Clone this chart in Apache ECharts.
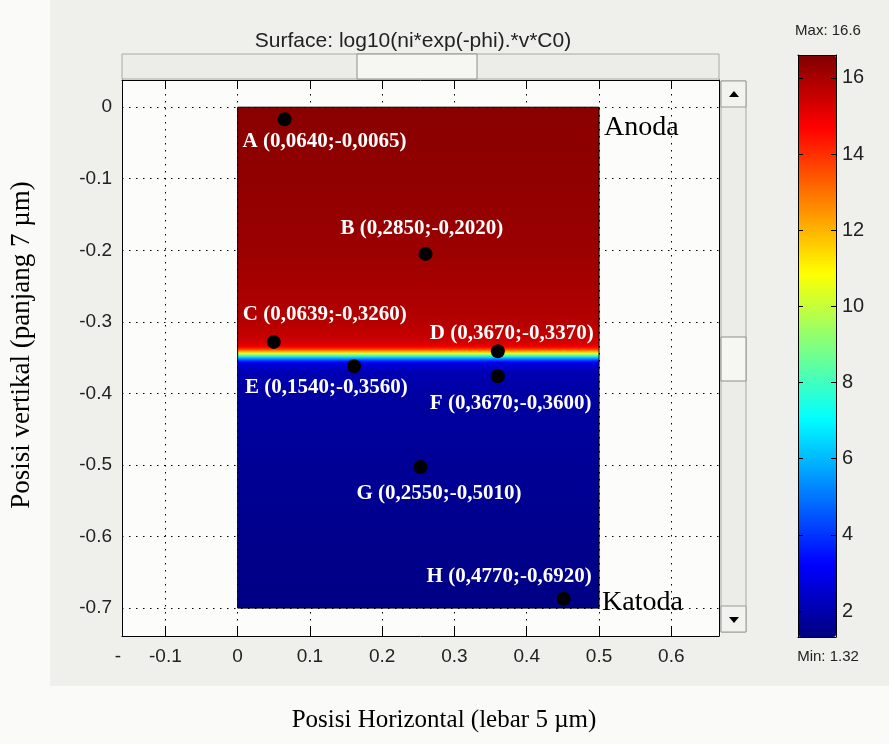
<!DOCTYPE html>
<html>
<head>
<meta charset="utf-8">
<script src="https://cdn.jsdelivr.net/npm/echarts@6/dist/echarts.min.js"></script>
<style>html,body{margin:0;padding:0;background:#fafaf8;}#chart{width:889px;height:744px;}</style>
</head>
<body>
<div id="chart"></div>
<script>
// ---------- data ----------
const titleText = 'Surface: log10(ni*exp(-phi).*v*C0)';
const xAxisName = 'Posisi Horizontal (lebar 5 µm)';
const yAxisName = 'Posisi vertikal (panjang 7 µm)';
const xTicks = [-0.1, 0, 0.1, 0.2, 0.3, 0.4, 0.5, 0.6];
const yTicks = [0, -0.1, -0.2, -0.3, -0.4, -0.5, -0.6, -0.7];
const cbTicks = [2, 4, 6, 8, 10, 12, 14, 16];
const cbMin = 1.32;
const cbMax = 16.6;
const domainX = [0, 0.5];
const domainY = [0, -0.7];
// vertical profile of the surface value (log10 concentration)
const profileY = [0, -0.05, -0.1, -0.15, -0.2, -0.25, -0.3, -0.32, -0.33, -0.335, -0.338, -0.341, -0.344, -0.347, -0.35, -0.353, -0.356, -0.36, -0.37, -0.4, -0.5, -0.6, -0.7];
const profileV = [16.45, 16.4, 16.35, 16.28, 16.18, 16.02, 15.8, 15.55, 15.3, 14.8, 13.9, 12.3, 10.5, 8.3, 6.2, 4.5, 3.3, 2.6, 2.1, 1.85, 1.65, 1.5, 1.4];
const pointNames = ['A', 'B', 'C', 'D', 'E', 'F', 'G', 'H'];
const pointX = [0.065, 0.260, 0.050, 0.360, 0.161, 0.360, 0.253, 0.451];
const pointY = [-0.017, -0.205, -0.328, -0.341, -0.362, -0.376, -0.503, -0.687];
const pointLabels = ['A (0,0640;-0,0065)', 'B (0,2850;-0,2020)', 'C (0,0639;-0,3260)', 'D (0,3670;-0,3370)',
                     'E (0,1540;-0,3560)', 'F (0,3670;-0,3600)', 'G (0,2550;-0,5010)', 'H (0,4770;-0,6920)'];
const electrodeNames = ['Anoda', 'Katoda'];
const electrodeX = [0.5, 0.5];
const electrodeY = [0, -0.7];

// ---------- styles / layout ----------
const pointLabelOffsets = [[-42, 22], [-85, -25], [-31, -27], [-68, -18], [-109, 21], [-68, 27], [-64, 26], [-137, -22]];
const electrodeOffsets = [[5, 20], [3, -5]];
const jet = ['#000080', '#0000ff', '#0080ff', '#00ffff', '#80ff80', '#ffff00', '#ff8000', '#ff0000', '#800000'];
const sans = 'Liberation Sans, Arial, sans-serif';
const serif = 'Liberation Serif, Times New Roman, serif';
const G = {left: 122, top: 80, width: 597, height: 556};
const CB = {left: 798, top: 55, width: 38, height: 582};

const fmt = v => String(Math.round(v * 10) / 10);

const chart = echarts.init(document.getElementById('chart'), null, {renderer: 'canvas'});

const surfaceData = profileY.map((y, i) => [y, profileV[i]]);
const pointData = pointX.map((x, i) => ({
  name: pointNames[i],
  value: [x, pointY[i]],
  label: {formatter: pointLabels[i], offset: pointLabelOffsets[i]}
}));
const electrodeData = electrodeX.map((x, i) => ({
  name: electrodeNames[i],
  value: [x, electrodeY[i]],
  label: {formatter: electrodeNames[i], offset: electrodeOffsets[i]}
}));
const domainOutline = [[domainX[0], domainY[0]], [domainX[1], domainY[0]], [domainX[1], domainY[1]], [domainX[0], domainY[1]], [domainX[0], domainY[0]]];

const xMin = -0.16, xMax = 0.666, yMin = -0.739, yMax = 0.038;

const option = {
  backgroundColor: '#fafaf8',
  animation: false,
  title: {
    text: titleText, left: 408, top: 26, textAlign: 'center',
    textStyle: {fontFamily: sans, fontSize: 21, fontWeight: 'normal', color: '#222'}
  },
  grid: [
    Object.assign({show: true, backgroundColor: '#fcfcfa', borderWidth: 0}, G),
    Object.assign({show: false}, CB)
  ],
  xAxis: [
    {gridIndex: 0, type: 'value', min: xMin, max: xMax, position: 'bottom',
     axisLine: {show: true, onZero: false, lineStyle: {color: '#000', width: 1}},
     axisTick: {show: true, inside: true, length: 9, customValues: xTicks, lineStyle: {color: '#000'}},
     axisLabel: {customValues: xTicks, formatter: fmt, margin: 11, fontFamily: sans, fontSize: 19, color: '#222', showMinLabel: true, showMaxLabel: true},
     splitLine: {show: true, lineStyle: {color: '#000', width: 1, type: [1.5, 5.5]}}},
    {gridIndex: 0, type: 'value', min: xMin, max: xMax, position: 'top',
     axisLine: {show: true, onZero: false, lineStyle: {color: '#000', width: 1}},
     axisTick: {show: true, inside: true, length: 9, customValues: xTicks, lineStyle: {color: '#000'}},
     axisLabel: {show: false}, splitLine: {show: false}},
    {gridIndex: 1, type: 'value', min: 0, max: 1, position: 'bottom', z: 10,
     axisLine: {show: true, onZero: false, lineStyle: {color: '#000', width: 1}},
     axisTick: {show: false}, axisLabel: {show: false}, splitLine: {show: false}},
    {gridIndex: 1, type: 'value', min: 0, max: 1, position: 'top', z: 10,
     axisLine: {show: true, onZero: false, lineStyle: {color: '#000', width: 1}},
     axisTick: {show: false}, axisLabel: {show: false}, splitLine: {show: false}}
  ],
  yAxis: [
    {gridIndex: 0, type: 'value', min: yMin, max: yMax, position: 'left',
     axisLine: {show: true, onZero: false, lineStyle: {color: '#000', width: 1}},
     axisTick: {show: false, customValues: yTicks},
     axisLabel: {customValues: yTicks, formatter: fmt, margin: 10, fontFamily: sans, fontSize: 19, color: '#222', showMinLabel: true, showMaxLabel: true},
     splitLine: {show: true, lineStyle: {color: '#000', width: 1, type: [1.5, 5.5]}}},
    {gridIndex: 0, type: 'value', min: yMin, max: yMax, position: 'right',
     axisLine: {show: true, onZero: false, lineStyle: {color: '#000', width: 1}},
     axisTick: {show: false}, axisLabel: {show: false}, splitLine: {show: false}},
    {gridIndex: 1, type: 'value', min: cbMin, max: cbMax, position: 'right', z: 10,
     axisLine: {show: true, onZero: false, lineStyle: {color: '#000', width: 1}},
     axisTick: {show: true, inside: true, length: 5, customValues: cbTicks, lineStyle: {color: '#000'}},
     axisLabel: {customValues: cbTicks, margin: 6, fontFamily: sans, fontSize: 20, color: '#222'},
     splitLine: {show: false}},
    {gridIndex: 1, type: 'value', min: cbMin, max: cbMax, position: 'left', z: 10,
     axisLine: {show: true, onZero: false, lineStyle: {color: '#000', width: 1}},
     axisTick: {show: true, inside: true, length: 5, customValues: cbTicks, lineStyle: {color: '#000'}},
     axisLabel: {show: false}, splitLine: {show: false}}
  ],
  visualMap: {
    type: 'continuous', min: cbMin, max: cbMax, seriesIndex: 0, dimension: 1,
    calculable: false, hoverLink: false, orient: 'vertical',
    left: CB.left, top: CB.top, itemWidth: CB.width, itemHeight: CB.height, padding: 0,
    inRange: {color: jet}, z: 4
  },
  series: [
    {
      type: 'custom', xAxisIndex: 0, yAxisIndex: 0, clip: true,
      encode: {y: 0},
      data: surfaceData,
      renderItem: function (params, api) {
        // the whole domain is one rect whose vertical gradient follows the profile points
        if (params.dataIndexInside !== 0) return null;
        const n = profileY.length;
        const pTop = api.coord([domainX[0], api.value(0, 0)]);
        const pBot = api.coord([domainX[1], api.value(0, n - 1)]);
        const h = pBot[1] - pTop[1];
        const stops = [];
        for (let i = 0; i < n; i++) {
          const py = api.coord([domainX[0], api.value(0, i)])[1];
          stops.push({offset: Math.min(1, Math.max(0, (py - pTop[1]) / h)), color: api.visual('color', i)});
        }
        return {
          type: 'rect',
          shape: {x: pTop[0], y: pTop[1], width: pBot[0] - pTop[0], height: h},
          style: {fill: new echarts.graphic.LinearGradient(0, 0, 0, 1, stops)},
          silent: true
        };
      },
      z: 2
    },
    {
      type: 'line', xAxisIndex: 0, yAxisIndex: 0, data: domainOutline, symbol: 'none',
      lineStyle: {color: '#000', width: 1}, z: 3, silent: true
    },
    {
      type: 'scatter', xAxisIndex: 0, yAxisIndex: 0, data: pointData,
      symbol: 'circle', symbolSize: 14, itemStyle: {color: '#000', opacity: 1}, z: 5,
      label: {show: true, position: 'inside', align: 'left', verticalAlign: 'middle',
              fontFamily: serif, fontWeight: 'bold', fontSize: 21, color: '#fff'}
    },
    {
      type: 'scatter', xAxisIndex: 0, yAxisIndex: 0, data: electrodeData,
      symbol: 'circle', symbolSize: 0, z: 5, itemStyle: {opacity: 1},
      label: {show: true, position: 'inside', align: 'left', verticalAlign: 'middle',
              fontFamily: serif, fontSize: 28, color: '#000', opacity: 1}
    }
  ],
  graphic: [
    // figure panel
    {type: 'rect', z: -10, silent: true, shape: {x: 50, y: 0, width: 839, height: 686}, style: {fill: '#efefeb'}},
    // horizontal scrollbar
    {type: 'rect', z: 1, silent: true, shape: {x: 122, y: 54, width: 597, height: 25}, style: {fill: '#ecece8', stroke: '#a8a8a4', lineWidth: 1}},
    {type: 'rect', z: 2, silent: true, shape: {x: 357, y: 54, width: 120, height: 25}, style: {fill: '#f6f6f2', stroke: '#8e8e8a', lineWidth: 1}},
    // vertical scrollbar
    {type: 'rect', z: 1, silent: true, shape: {x: 721, y: 81, width: 25, height: 551}, style: {fill: '#ecece8', stroke: '#a8a8a4', lineWidth: 1}},
    {type: 'rect', z: 2, silent: true, shape: {x: 721, y: 81, width: 25, height: 26}, style: {fill: '#f2f2ee', stroke: '#9a9a96', lineWidth: 1}},
    {type: 'rect', z: 2, silent: true, shape: {x: 721, y: 606, width: 25, height: 26}, style: {fill: '#f2f2ee', stroke: '#9a9a96', lineWidth: 1}},
    {type: 'rect', z: 2, silent: true, shape: {x: 721, y: 337, width: 25, height: 44}, style: {fill: '#f6f6f2', stroke: '#8e8e8a', lineWidth: 1}},
    {type: 'polygon', z: 3, silent: true, shape: {points: [[729, 97], [739, 97], [734, 91]]}, style: {fill: '#000'}},
    {type: 'polygon', z: 3, silent: true, shape: {points: [[729, 617], [739, 617], [734, 623]]}, style: {fill: '#000'}},
    // colorbar captions
    {type: 'text', z: 3, silent: true, style: {text: 'Max: 16.6', x: 828, y: 31, align: 'center', verticalAlign: 'middle', font: '15px ' + sans, fill: '#222'}},
    {type: 'text', z: 3, silent: true, style: {text: 'Min: 1.32', x: 828, y: 657, align: 'center', verticalAlign: 'middle', font: '15px ' + sans, fill: '#222'}},
    // clipped tick label fragment at left
    {type: 'text', z: 3, silent: true, style: {text: '-', x: 118, y: 657, align: 'center', verticalAlign: 'middle', font: '19px ' + sans, fill: '#222'}},
    // axis names
    {type: 'text', z: 3, silent: true, style: {text: xAxisName, x: 444, y: 720, align: 'center', verticalAlign: 'middle', font: '25px ' + serif, fill: '#000'}},
    {type: 'text', z: 3, silent: true, rotation: Math.PI / 2, x: 22, y: 345, style: {text: yAxisName, x: 0, y: 0, align: 'center', verticalAlign: 'middle', font: '27px ' + serif, fill: '#000'}}
  ]
};
chart.setOption(option);
</script>
</body>
</html>
